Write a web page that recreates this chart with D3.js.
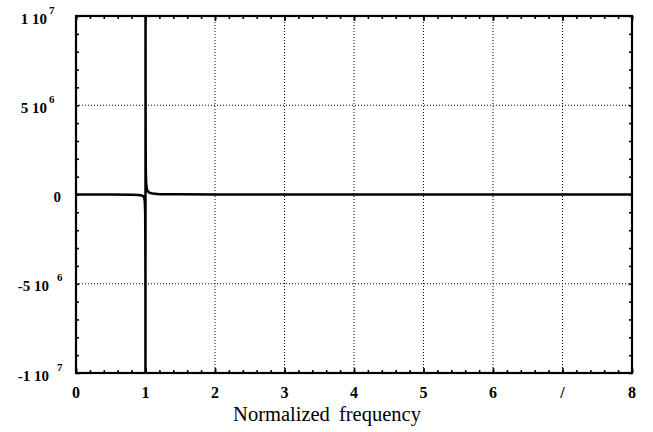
<!DOCTYPE html>
<html><head><meta charset="utf-8">
<script src="https://cdn.jsdelivr.net/npm/d3@7"></script>
<style>body{margin:0;background:#fff}svg{display:block}</style>
</head><body><svg id="c" width="653" height="432"></svg>
<script>
// Data (response vs normalized frequency)
const freq = [0, 0.5, 0.8, 0.9, 0.95, 0.97, 0.98, 0.99, 0.995, 0.998, 0.999, 0.9995,
              1.0005, 1.001, 1.002, 1.005, 1.01, 1.02, 1.03, 1.05, 1.1, 1.2, 1.5, 2, 3, 4, 5, 6, 7, 8];
const resp = [0, -5e3, -1.5e4, -3e4, -6e4, -1e5, -1.7e5, -4e5, -1e6, -3e6, -7e6, -1.6e7,
              1.6e7, 8e6, 3e6, 1.2e6, 6e5, 3e5, 2e5, 1.1e5, 5e4, 2e4, 8e3, 4e3, 2e3, 1.5e3, 1.2e3, 1e3, 9e2, 8e2];
const xTicks = [0, 1, 2, 3, 4, 5, 6, 7, 8];
const xTickLabels = ["0", "1", "2", "3", "4", "5", "6", "/", "8"];
const yTicks = [-1e7, -5e6, 0, 5e6, 1e7];
const yTickMant = ["-1 10", "-5 10", "0", "5 10", "1 10"];
const yTickExp = ["7", "6", "", "6", "7"];
const xGridVals = [1, 2, 3, 4, 5, 6, 7];
const yGridVals = [-5e6, 5e6];
const xTitle = "Normalized frequency";

const L = 76, R = 632, T = 16, B = 373;
const FONT = "'Liberation Serif', 'Times New Roman', serif";
const svg = d3.select("#c");
const x = d3.scaleLinear().domain([0, 8]).range([L, R]);
const y = d3.scaleLinear().domain([-1e7, 1e7]).range([B, T]);

svg.append("defs").append("clipPath").attr("id", "clip")
  .append("rect").attr("x", L).attr("y", T).attr("width", R - L).attr("height", B - T);

// grid
const grid = svg.append("g").attr("stroke", "#000").attr("stroke-width", 1).attr("stroke-dasharray", "1,2");
grid.selectAll(".gx").data(xGridVals).join("line")
  .attr("x1", d => x(d)).attr("x2", d => x(d)).attr("y1", T).attr("y2", B);
grid.selectAll(".gy").data(yGridVals).join("line")
  .attr("y1", d => y(d)).attr("y2", d => y(d)).attr("x1", L).attr("x2", R);

// ticks
const minorX = d3.range(0, 8.001, 0.2);
const minorY = d3.range(-1e7, 1e7 + 1, 1e6);
function styleAxis(g) { g.select(".domain").remove(); g.selectAll(".tick line").attr("stroke", "#000").attr("stroke-width", 1.6); }
svg.append("g").attr("transform", `translate(0,${B})`).call(d3.axisBottom(x).tickValues(minorX).tickSize(-3).tickFormat("")).call(styleAxis);
svg.append("g").attr("transform", `translate(0,${T})`).call(d3.axisTop(x).tickValues(minorX).tickSize(-3).tickFormat("")).call(styleAxis);
svg.append("g").attr("transform", `translate(0,${B})`).call(d3.axisBottom(x).tickValues(xTicks).tickSize(-5).tickFormat("")).call(styleAxis);
svg.append("g").attr("transform", `translate(0,${T})`).call(d3.axisTop(x).tickValues(xTicks).tickSize(-5).tickFormat("")).call(styleAxis);
svg.append("g").attr("transform", `translate(${L},0)`).call(d3.axisLeft(y).tickValues(minorY).tickSize(-3).tickFormat("")).call(styleAxis);
svg.append("g").attr("transform", `translate(${R},0)`).call(d3.axisRight(y).tickValues(minorY).tickSize(-3).tickFormat("")).call(styleAxis);

// data line
const pts = freq.map((f, i) => [f, resp[i]]);
svg.append("path").datum(pts).attr("clip-path", "url(#clip)")
  .attr("fill", "none").attr("stroke", "#000").attr("stroke-width", 2.5).attr("stroke-linejoin", "round")
  .attr("d", d3.line().x(d => x(d[0])).y(d => y(d[1])));

// frame
svg.append("rect").attr("x", L).attr("y", T).attr("width", R - L).attr("height", B - T)
  .attr("fill", "none").attr("stroke", "#000").attr("stroke-width", 2.2);

// x labels
svg.append("g").selectAll("text").data(xTicks).join("text")
  .attr("x", d => x(d)).attr("y", B + 25).attr("text-anchor", "middle")
  .style("font-family", FONT).style("font-weight", "bold").style("font-size", "16px")
  .text((d, i) => xTickLabels[i]);

// y labels
const yl = svg.append("g").style("font-family", FONT).style("font-weight", "bold");
yTicks.forEach((v, i) => {
  const neg = v < 0, hasExp = yTickExp[i] !== "";
  const mantEnd = !hasExp ? 61 : (neg ? 49 : 47);
  const base = y(v) + 7.5;
  yl.append("text").attr("x", mantEnd).attr("y", base).attr("text-anchor", "end").style("font-size", "15px").text(yTickMant[i]);
  if (hasExp) yl.append("text").attr("x", mantEnd + (neg ? 8 : 2)).attr("y", base - 10).style("font-size", "11px").text(yTickExp[i]);
});

// x title
svg.append("text").attr("x", 327).attr("y", 420.5).attr("text-anchor", "middle")
  .style("font-family", FONT).style("font-size", "20.5px").style("word-spacing", "4px")
  .text(xTitle);
</script></body></html>
